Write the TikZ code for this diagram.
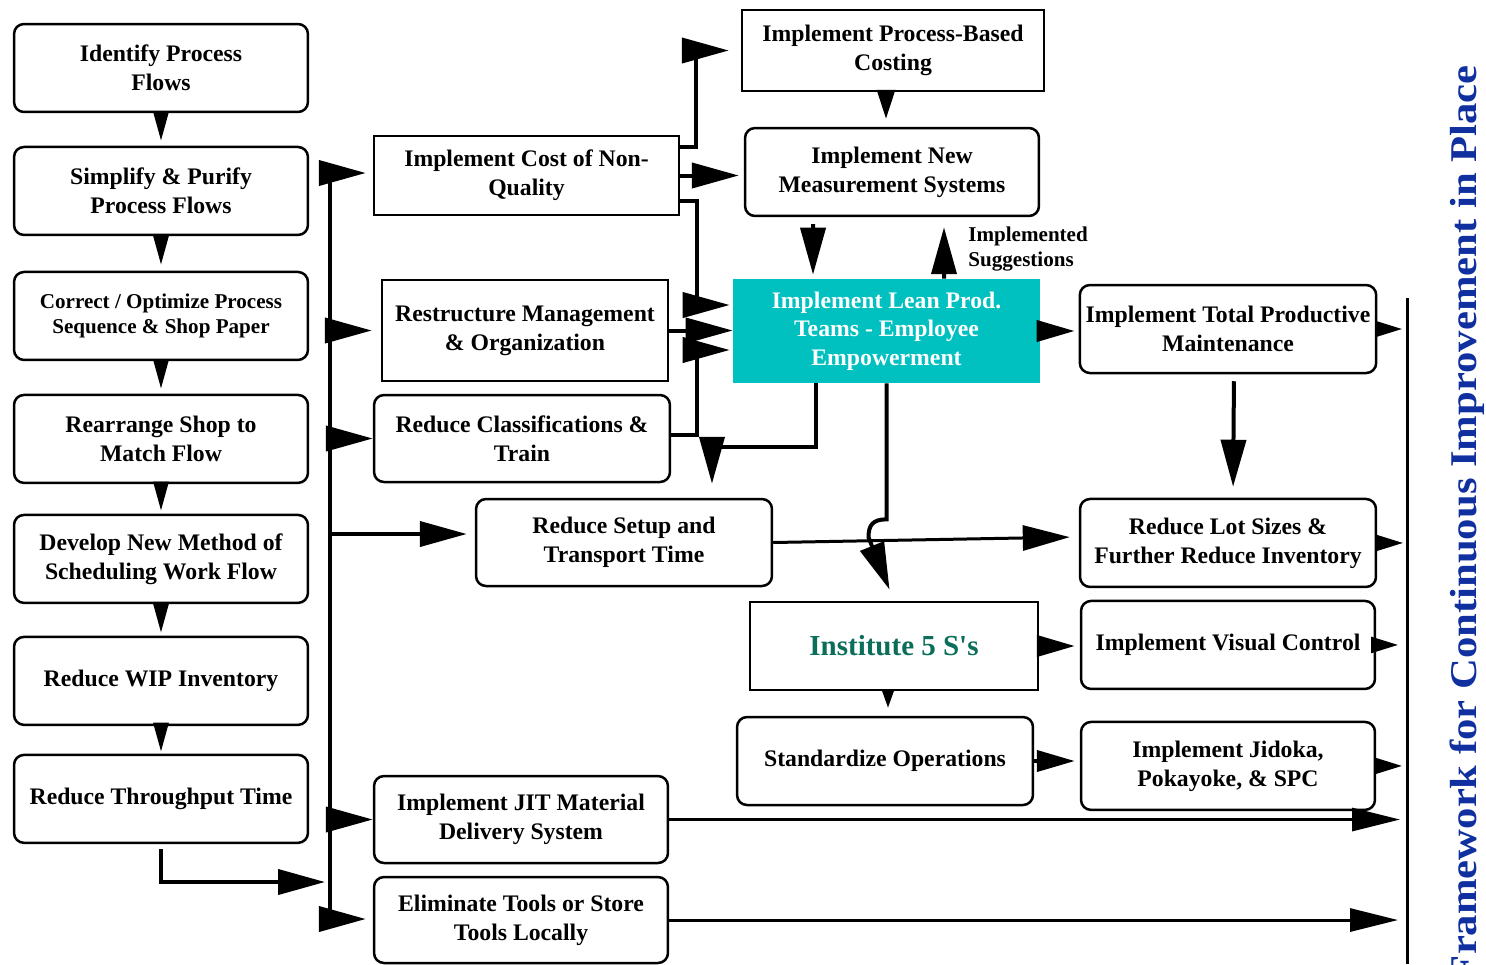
\documentclass[tikz,border=0pt]{standalone}
\usepackage{fontspec}
\setmainfont{Liberation Serif}
\usepackage{tikz}
\usetikzlibrary{
  arrows.meta,
  positioning
}
\definecolor{leanteal}{RGB}{0,192,192}
\definecolor{fivesgreen}{RGB}{10,110,90}
\definecolor{frameblue}{RGB}{16,48,160}
\tikzset{
  stepbox/.style={draw, rounded corners=0.2cm, line width=0.05cm,
    minimum width=5.88cm, minimum height=1.76cm,
    align=center, font=\fontsize{13.5}{16.5}\selectfont\bfseries},
  sharpbox/.style={draw, line width=0.05cm,
    minimum width=5.88cm, minimum height=1.76cm,
    align=center, font=\fontsize{13.5}{16.5}\selectfont\bfseries},
  teambox/.style={fill=leanteal, text=white,
    minimum width=6.14cm, minimum height=2.08cm,
    align=center, font=\fontsize{13.5}{16.2}\selectfont\bfseries},
  conn/.style={line width=0.08cm},
  arr/.style={conn, -{Triangle[length=0.94cm, width=0.5cm]}},
  midarr/.style={conn, -{Triangle[length=0.76cm, width=0.42cm]}},
  smallarr/.style={line width=0.06cm, -{Triangle[length=0.58cm, width=0.3cm]}},
  tinyarr/.style={line width=0.05cm, -{Triangle[length=0.54cm, width=0.32cm]}},
  longarr/.style={line width=0.06cm, -{Triangle[length=0.96cm, width=0.46cm]}},
}

\begin{document}
\begin{tikzpicture}[x=0.02cm, y=-0.02cm]
  \useasboundingbox (0,0) rectangle (1486,964);

  % Left column
  \node[stepbox] (identify) at (161,68) {Identify Process\\Flows};
  \node[stepbox, below=0.65cm of identify] (simplify)
    {Simplify \& Purify\\Process Flows};
  \node[stepbox, below=0.69cm of simplify,
        font=\fontsize{12}{13.7}\selectfont\bfseries] (correct)
    {Correct / Optimize Process\\Sequence \& Shop Paper};
  \node[stepbox, below=0.65cm of correct] (rearrange)
    {Rearrange Shop to\\Match Flow};
  \node[stepbox, below=0.59cm of rearrange] (develop)
    {Develop New Method of\\Scheduling Work Flow};
  \node[stepbox, below=0.63cm of develop] (wip) {Reduce WIP Inventory};
  \node[stepbox, below=0.55cm of wip] (thru) {Reduce Throughput Time};

  % Middle column
  \node[sharpbox, minimum width=6.1cm, minimum height=1.58cm] (cost)
    at (526.5,175.5) {Implement Cost of Non-\\Quality};
  \node[sharpbox, minimum width=5.72cm, minimum height=2.02cm] (restr)
    at (525,330.5) {Restructure Management\\\& Organization};
  \node[stepbox, minimum width=5.92cm, minimum height=1.74cm] (classif)
    at (522,438.5) {Reduce Classifications \&\\Train};
  \node[stepbox, minimum width=5.92cm, minimum height=1.74cm] (setup)
    at (624,542.5) {Reduce Setup and\\Transport Time};
  \node[stepbox, minimum height=1.74cm] (jit)
    at (521,819.5) {Implement JIT Material\\Delivery System};
  \node[stepbox, minimum height=1.72cm] (elim)
    at (521,920) {Eliminate Tools or Store\\Tools Locally};

  % Top and centre
  \node[sharpbox, minimum width=6.04cm, minimum height=1.62cm] (costing)
    at (893,50.5) {Implement Process-Based\\Costing};
  \node[stepbox] (meas) at (892,172) {Implement New\\Measurement Systems};
  \node[teambox] (lean) at (886.5,331)
    {Implement Lean Prod.\\Teams - Employee\\Empowerment};
  \node[anchor=west, inner sep=0pt, align=left,
        font=\fontsize{12}{14}\selectfont\bfseries] (sugg)
    at (968,249) {Implemented\\Suggestions};
  \node[sharpbox, minimum width=5.76cm, text=fivesgreen,
        font=\fontsize{16.5}{19}\selectfont\bfseries] (inst)
    at (894,646) {Institute 5 S\textquotesingle s};
  \node[stepbox, minimum width=5.92cm] (stdops)
    at (885,761) {Standardize Operations};

  % Right column
  \node[stepbox] (tpm) at (1228,329)
    {Implement Total Productive\\Maintenance};
  \node[stepbox, minimum width=5.92cm, below=2.47cm of tpm] (lot)
    {Reduce Lot Sizes \&\\Further Reduce Inventory};
  \node[stepbox, below=0.23cm of lot] (visual)
    {Implement Visual Control};
  \node[stepbox, below=0.61cm of visual] (jidoka)
    {Implement Jidoka,\\Pokayoke, \& SPC};

  % Framework title and bar
  \node[rotate=90, anchor=east, inner sep=0pt, text=frameblue,
        font=\fontsize{21.5}{24}\selectfont\bfseries] (frame) at (1467,65)
    {\scalebox{1.13}[1]{Framework for Continuous Improvement in Place}};
  \coordinate (bartop) at (1407,298);
  \coordinate (barbot) at (1407,964);
  \draw[line width=0.06cm] (bartop) -- (barbot);

  % Left column arrows
  \draw[smallarr, shorten >=0.1cm] (identify) -- (simplify);
  \draw[smallarr, shorten >=0.12cm] (simplify) -- (correct);
  \draw[smallarr, shorten >=0.1cm] (correct) -- (rearrange);
  \draw[smallarr, shorten >=0.06cm] (rearrange) -- (develop);
  \draw[smallarr, shorten >=0.06cm] (develop) -- (wip);
  \draw[smallarr, shorten >=0.04cm] (wip) -- (thru);

  % Bus
  \coordinate (bustop) at (330,173);
  \coordinate (busbot) at (330,919);
  \coordinate (thruin) at (325,882);
  \coordinate (setupin) at ([yshift=0.17cm]setup.west);
  \draw[conn] (bustop) -- (busbot);
  \draw[arr, shorten >=0.14cm] (bustop) -- (bustop -| cost.west);
  \draw[arr, shorten >=0.18cm] (bustop |- restr.west) -- (restr.west);
  \draw[arr] (bustop |- classif.west) -- (classif.west);
  \draw[arr, shorten >=0.16cm] (bustop |- setupin) -- (setupin);
  \draw[arr] (bustop |- jit.west) -- (jit.west);
  \draw[arr, shorten >=0.14cm] (busbot) -- (busbot -| elim.west);
  \draw[arr, shorten <=0.1cm] (thru.south) |- (thruin);

  % Cost of non-quality and feeds into the teams
  \draw[arr, shorten >=0.24cm] ([yshift=0.57cm]cost.east) -- ++(16,0)
    |- (costing.west);
  \draw[arr, shorten >=0.1cm] (cost.east) -- (cost.east -| meas.west);
  \draw[arr, shorten >=0.06cm] ([yshift=-0.5cm]cost.east) -- ++(17,0)
    |- ([yshift=0.52cm]lean.west);
  \draw[arr] (restr.east) -- (restr.east -| lean.west);
  \draw[arr, shorten >=0.06cm] ([yshift=0.07cm]classif.east) -- ++(26,0)
    |- ([yshift=-0.38cm]lean.west);

  % Measurement loop
  \draw[smallarr, -{Triangle[length=0.58cm, width=0.36cm]},
        shorten >=0.16cm] ([xshift=-0.14cm]costing.south)
    -- ([xshift=-0.12cm]meas.north);
  \draw[arr, shorten <=0.14cm, shorten >=0.08cm]
    ([xshift=-1.58cm]meas.south) -- ([xshift=-1.47cm]lean.north);
  \draw[arr, shorten >=0.2cm]
    ([xshift=1.15cm]lean.north) -- ([xshift=1.04cm]meas.south);

  % Out of the teams
  \draw[midarr, shorten >=0.08cm] (lean.east) -- (lean.east -| tpm.west);
  \draw[arr, shorten >=0.28cm] ([xshift=-1.41cm]lean.south) -- ++(0,64)
    -| ([xshift=1.76cm]setup.north);
  \draw[arr, shorten >=0.24cm] (lean.south) -- ++(0,136)
    .. controls +(-14,0) and +(0,-12) .. ++(-18,18) -- (inst.north);
  \draw[arr, shorten <=0.14cm, shorten >=0.22cm]
    ([xshift=0.12cm]tpm.south) -- ([xshift=0.1cm]lot.north);
  \draw[arr, line width=0.06cm, shorten >=0.18cm]
    (setup.east) -- ([yshift=0.12cm]lot.west);

  % 5 S's
  \draw[midarr, shorten >=0.1cm] (inst.east) -- (inst.east -| visual.west);
  \draw[line width=0.05cm, -{Triangle[length=0.36cm, width=0.24cm]},
        shorten >=0.16cm] ([xshift=-0.12cm]inst.south)
    -- ([xshift=0.06cm]stdops.north);
  \draw[midarr, shorten >=0.1cm] (stdops.east) -- (stdops.east -| jidoka.west);

  % Into the framework
  \draw[tinyarr, shorten >=0.1cm] (tpm.east) -- (tpm.east -| bartop);
  \draw[tinyarr, shorten >=0.08cm] (lot.east) -- (lot.east -| bartop);
  \draw[tinyarr, shorten >=0.18cm] (visual.east) -- (visual.east -| bartop);
  \draw[tinyarr, shorten >=0.1cm] (jidoka.east) -- (jidoka.east -| bartop);
  \draw[longarr, shorten >=0.14cm] (jit.east) -- (jit.east -| bartop);
  \draw[longarr, shorten >=0.18cm] (elim.east) -- (elim.east -| bartop);
\end{tikzpicture}
\end{document}
